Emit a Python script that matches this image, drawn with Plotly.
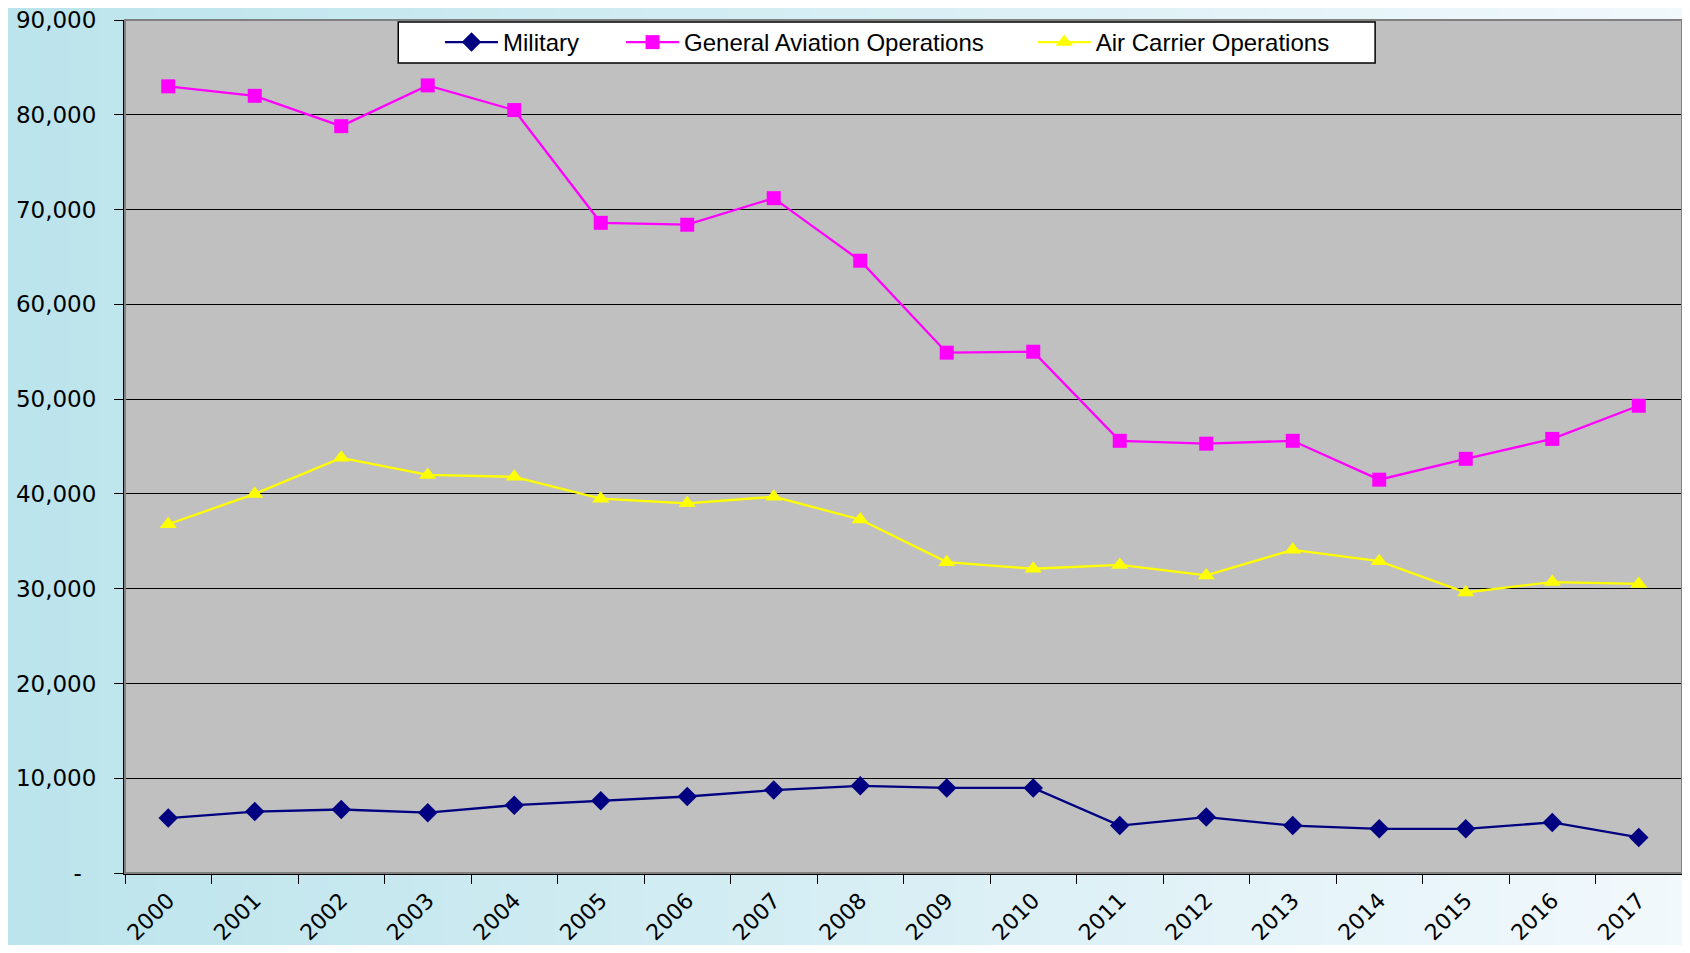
import plotly.graph_objects as go

years = [str(y) for y in range(2000, 2018)]
military = [5800, 6480, 6700, 6360, 7160, 7610, 8070, 8750, 9200, 8980, 8980,
            5000, 5900, 5000, 4660, 4660, 5340, 3750]
general_aviation = [83000, 82000, 78800, 83100, 80500, 68600, 68400, 71200, 64600,
                    54900, 55000, 45600, 45300, 45600, 41500, 43700, 45800, 49300]
air_carrier = [36800, 40000, 43800, 42000, 41800, 39500, 39000, 39700, 37300,
               32800, 32100, 32500, 31400, 34100, 32900, 29600, 30700, 30500]
y_tickvals = [0, 10000, 20000, 30000, 40000, 50000, 60000, 70000, 80000, 90000]
y_ticktext = ["-\u00a0\u00a0", "10,000", "20,000", "30,000", "40,000", "50,000", "60,000",
              "70,000", "80,000", "90,000"]

fig = go.Figure()
fig.add_trace(go.Scatter(x=years, y=military, name="Military", mode="lines+markers",
                         line=dict(color="#000080", width=2.3),
                         marker=dict(symbol="diamond", size=15, color="#000080"),
                         legend="legend"))
fig.add_trace(go.Scatter(x=years, y=general_aviation, name="General Aviation Operations",
                         mode="lines+markers", line=dict(color="#FF00FF", width=2.3),
                         marker=dict(symbol="square", size=14, color="#FF00FF"),
                         legend="legend2"))
fig.add_trace(go.Scatter(x=years, y=air_carrier, name="Air Carrier Operations",
                         mode="lines+markers", line=dict(color="#FFFF00", width=2.3),
                         marker=dict(symbol="triangle-up", size=15, color="#FFFF00"),
                         legend="legend3"))

# background gradient stripes
shapes = []
n = 60
x0p, x1p = -0.09, 1.01
for i in range(n):
    t = i / (n - 1)
    r = int(188 + (242 - 188) * t)
    g = int(228 + (249 - 228) * t)
    b = int(236 + (253 - 236) * t)
    shapes.append(dict(type="rect", xref="paper", yref="paper",
                       x0=x0p + (x1p - x0p) * i / n, x1=x0p + (x1p - x0p) * (i + 1) / n + 0.001,
                       y0=-0.2, y1=1.05, fillcolor=f"rgb({r},{g},{b})",
                       line=dict(width=0), layer="below"))
# plot area background
shapes.append(dict(type="rect", xref="paper", yref="paper", x0=0, x1=1, y0=0, y1=1,
                   fillcolor="#C0C0C0", line=dict(width=0), layer="below"))
# plot frame
shapes.append(dict(type="rect", xref="paper", yref="paper", x0=0, x1=1, y0=0, y1=1,
                   line=dict(color="#808080", width=2), layer="above"))
# legend box
shapes.append(dict(type="rect", xref="paper", yref="paper", x0=0.1755, x1=0.8029,
                   y0=0.9496, y1=0.9977, fillcolor="white",
                   line=dict(color="black", width=1.5), layer="above"))

legend_common = dict(orientation="h", y=0.9736, xanchor="left", yanchor="middle",
                     bgcolor="rgba(0,0,0,0)", borderwidth=0,
                     font=dict(family="Liberation Sans, Arial", size=24, color="black"),
                     itemwidth=53)

fig.update_layout(
    width=1674, height=937,
    margin=dict(l=117, r=0, t=11.5, b=72),
    paper_bgcolor="#c6e8ef",
    plot_bgcolor="#C0C0C0",
    shapes=shapes,
    showlegend=True,
    legend=dict(x=0.2023, **legend_common),
    legend2=dict(x=0.3186, **legend_common),
    legend3=dict(x=0.583, **legend_common),
    xaxis=dict(type="category", range=[-0.5, 17.5], tickson="boundaries", ticks="outside",
               ticklen=9, tickcolor="black", showline=True, linecolor="black", linewidth=2,
               showgrid=False, tickangle=-45, automargin=False, ticklabelstandoff=4,
               tickfont=dict(family="DejaVu Sans", size=22, color="black")),
    yaxis=dict(range=[0, 90000], tickvals=y_tickvals, ticktext=y_ticktext,
               ticks="outside", ticklen=9, tickcolor="black", showline=True,
               linecolor="black", linewidth=2, showgrid=True, gridcolor="black",
               gridwidth=1, zeroline=False, automargin=False, ticklabelstandoff=13,
               ticklabeloverflow="allow",
               tickfont=dict(family="DejaVu Sans", size=23, color="black")),
)

fig.write_html("out.html")
